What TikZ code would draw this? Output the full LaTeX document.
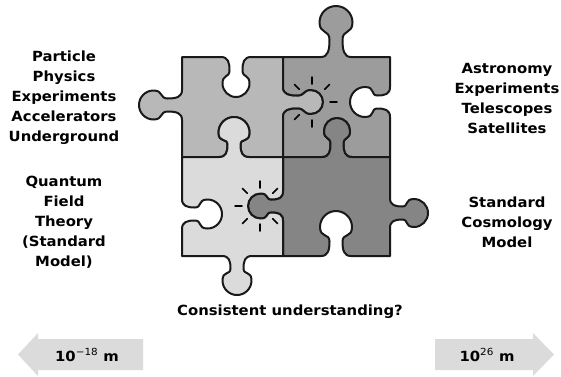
\documentclass[tikz,border=0pt]{standalone}
\usepackage{fontspec}
\setmainfont{DejaVu Sans}
\newfontfamily\lblfont{DejaVu Sans}[FakeStretch=1.06]
\definecolor{tlgray}{gray}{0.72}
\definecolor{trgray}{gray}{0.61}
\definecolor{blgray}{gray}{0.86}
\definecolor{brgray}{gray}{0.52}
\definecolor{arrowgray}{gray}{0.86}
\begin{document}
\begin{tikzpicture}[x=1bp,y=-1bp,
  % jigsaw tab on a horizontal edge: {y}{centre x}{travel sign}{bulge sign}{depth}{radius}
  htab/.style n args={6}{insert path={
    -- ({#2-#3*15},{#1})
    .. controls ({#2-#3*8},{#1}) and ({#2-#3*6.5},{#1+#4*0.2*(#5-#6)}) .. ({#2-#3*6.5},{#1+#4*0.5*(#5-#6)})
    .. controls ({#2-#3*6.5},{#1+#4*0.8*(#5-#6)}) and ({#2-#3*#6},{#1+#4*((#5-#6)-0.7*#6)}) .. ({#2-#3*#6},{#1+#4*(#5-#6)})
    .. controls ({#2-#3*#6},{#1+#4*((#5-#6)+0.552*#6)}) and ({#2-#3*0.552*#6},{#1+#4*#5}) .. ({#2},{#1+#4*#5})
    .. controls ({#2+#3*0.552*#6},{#1+#4*#5}) and ({#2+#3*#6},{#1+#4*((#5-#6)+0.552*#6)}) .. ({#2+#3*#6},{#1+#4*(#5-#6)})
    .. controls ({#2+#3*#6},{#1+#4*((#5-#6)-0.7*#6)}) and ({#2+#3*6.5},{#1+#4*0.8*(#5-#6)}) .. ({#2+#3*6.5},{#1+#4*0.5*(#5-#6)})
    .. controls ({#2+#3*6.5},{#1+#4*0.2*(#5-#6)}) and ({#2+#3*8},{#1}) .. ({#2+#3*15},{#1})
  }},
  % the same tab on a vertical edge: {x}{centre y}{travel sign}{bulge sign}{depth}{radius}
  vtab/.style n args={6}{insert path={
    -- ({#1},{#2-#3*15})
    .. controls ({#1},{#2-#3*8}) and ({#1+#4*0.2*(#5-#6)},{#2-#3*6.5}) .. ({#1+#4*0.5*(#5-#6)},{#2-#3*6.5})
    .. controls ({#1+#4*0.8*(#5-#6)},{#2-#3*6.5}) and ({#1+#4*((#5-#6)-0.7*#6)},{#2-#3*#6}) .. ({#1+#4*(#5-#6)},{#2-#3*#6})
    .. controls ({#1+#4*((#5-#6)+0.552*#6)},{#2-#3*#6}) and ({#1+#4*#5},{#2-#3*0.552*#6}) .. ({#1+#4*#5},{#2})
    .. controls ({#1+#4*#5},{#2+#3*0.552*#6}) and ({#1+#4*((#5-#6)+0.552*#6)},{#2+#3*#6}) .. ({#1+#4*(#5-#6)},{#2+#3*#6})
    .. controls ({#1+#4*((#5-#6)-0.7*#6)},{#2+#3*#6}) and ({#1+#4*0.8*(#5-#6)},{#2+#3*6.5}) .. ({#1+#4*0.5*(#5-#6)},{#2+#3*6.5})
    .. controls ({#1+#4*0.2*(#5-#6)},{#2+#3*6.5}) and ({#1},{#2+#3*8}) .. ({#1},{#2+#3*15})
  }},
  piece/.style={draw=black!90, line width=2bp, line join=round},
  ray/.style={line width=1.5bp, line cap=round},
  lbl/.style={font=\lblfont\bfseries\fontsize{14bp}{20bp}\selectfont, align=center, inner sep=0pt},
  scalearrow/.style={fill=arrowgray, draw=none}]
\useasboundingbox (0,0) rectangle (561,376);

% top-left piece
\path[piece, fill=tlgray] (182,57)
  [htab={57}{236}{1}{1}{40}{13.5}] -- (283,57)
  [vtab={283}{102}{1}{1}{40}{12}] -- (283,157)
  [htab={157}{234}{-1}{-1}{40}{15.5}] -- (182,157)
  [vtab={182}{105}{-1}{-1}{43}{14.5}] -- cycle;
% top-right piece
\path[piece, fill=trgray] (283,57)
  [htab={57}{336}{1}{-1}{51}{16.5}] -- (390,57)
  [vtab={390}{102}{1}{-1}{40}{15}] -- (390,157)
  [htab={157}{337}{-1}{-1}{39}{13}] -- (283,157)
  [vtab={283}{102}{-1}{1}{40}{12}] -- cycle;
% bottom-right piece
\path[piece, fill=brgray] (283,157)
  [htab={157}{337}{1}{-1}{39}{13}] -- (390,157)
  [vtab={390}{213}{1}{1}{38}{14}] -- (390,256)
  [htab={256}{336}{-1}{-1}{45}{16}] -- (283,256)
  [vtab={283}{206}{-1}{-1}{35}{12.5}] -- cycle;
% bottom-left piece
\path[piece, fill=blgray] (182,157)
  [htab={157}{234}{1}{-1}{40}{15.5}] -- (283,157)
  [vtab={283}{206}{1}{-1}{35}{12.5}] -- (283,256)
  [htab={256}{237}{-1}{1}{39}{14.5}] -- (182,256)
  [vtab={182}{214}{-1}{1}{40}{14.5}] -- cycle;

% sparks around the two fitting tabs
\foreach \a in {0,45,90,135,225,270}
  \draw[ray] ({312+18*cos(\a)},{102-18*sin(\a)}) -- ({312+25*cos(\a)},{102-25*sin(\a)});
\foreach \a in {45,90,135,180,225,270,315}
  \draw[ray] ({260+18*cos(\a)},{206-18*sin(\a)}) -- ({260+25*cos(\a)},{206-25*sin(\a)});

% side labels
\node[lbl] (particle) at (64,98) {Particle\\Physics\\Experiments\\Accelerators\\Underground};
\node[lbl] (qft) at (64,222) {Quantum\\Field\\Theory\\(Standard\\Model)};
\node[lbl] (astro) at (507,98) {Astronomy\\Experiments\\Telescopes\\Satellites};
\node[lbl] (cosmo) at (507,222) {Standard\\Cosmology\\Model};
\node[lbl] (question) at (290,312) {Consistent understanding?};

% length-scale arrows
\fill[scalearrow] (18,354.5) -- (38,333) -- (38,339) -- (143,339) -- (143,370) -- (38,370) -- (38,376) -- cycle;
\fill[scalearrow] (554,354.5) -- (533,333) -- (533,339) -- (435,339) -- (435,370) -- (533,370) -- (533,376) -- cycle;
\node[lbl] (small) at (87,355) {10\textsuperscript{\mdseries −18} m};
\node[lbl] (large) at (487,355) {10\textsuperscript{\mdseries 26} m};
\end{tikzpicture}
\end{document}
